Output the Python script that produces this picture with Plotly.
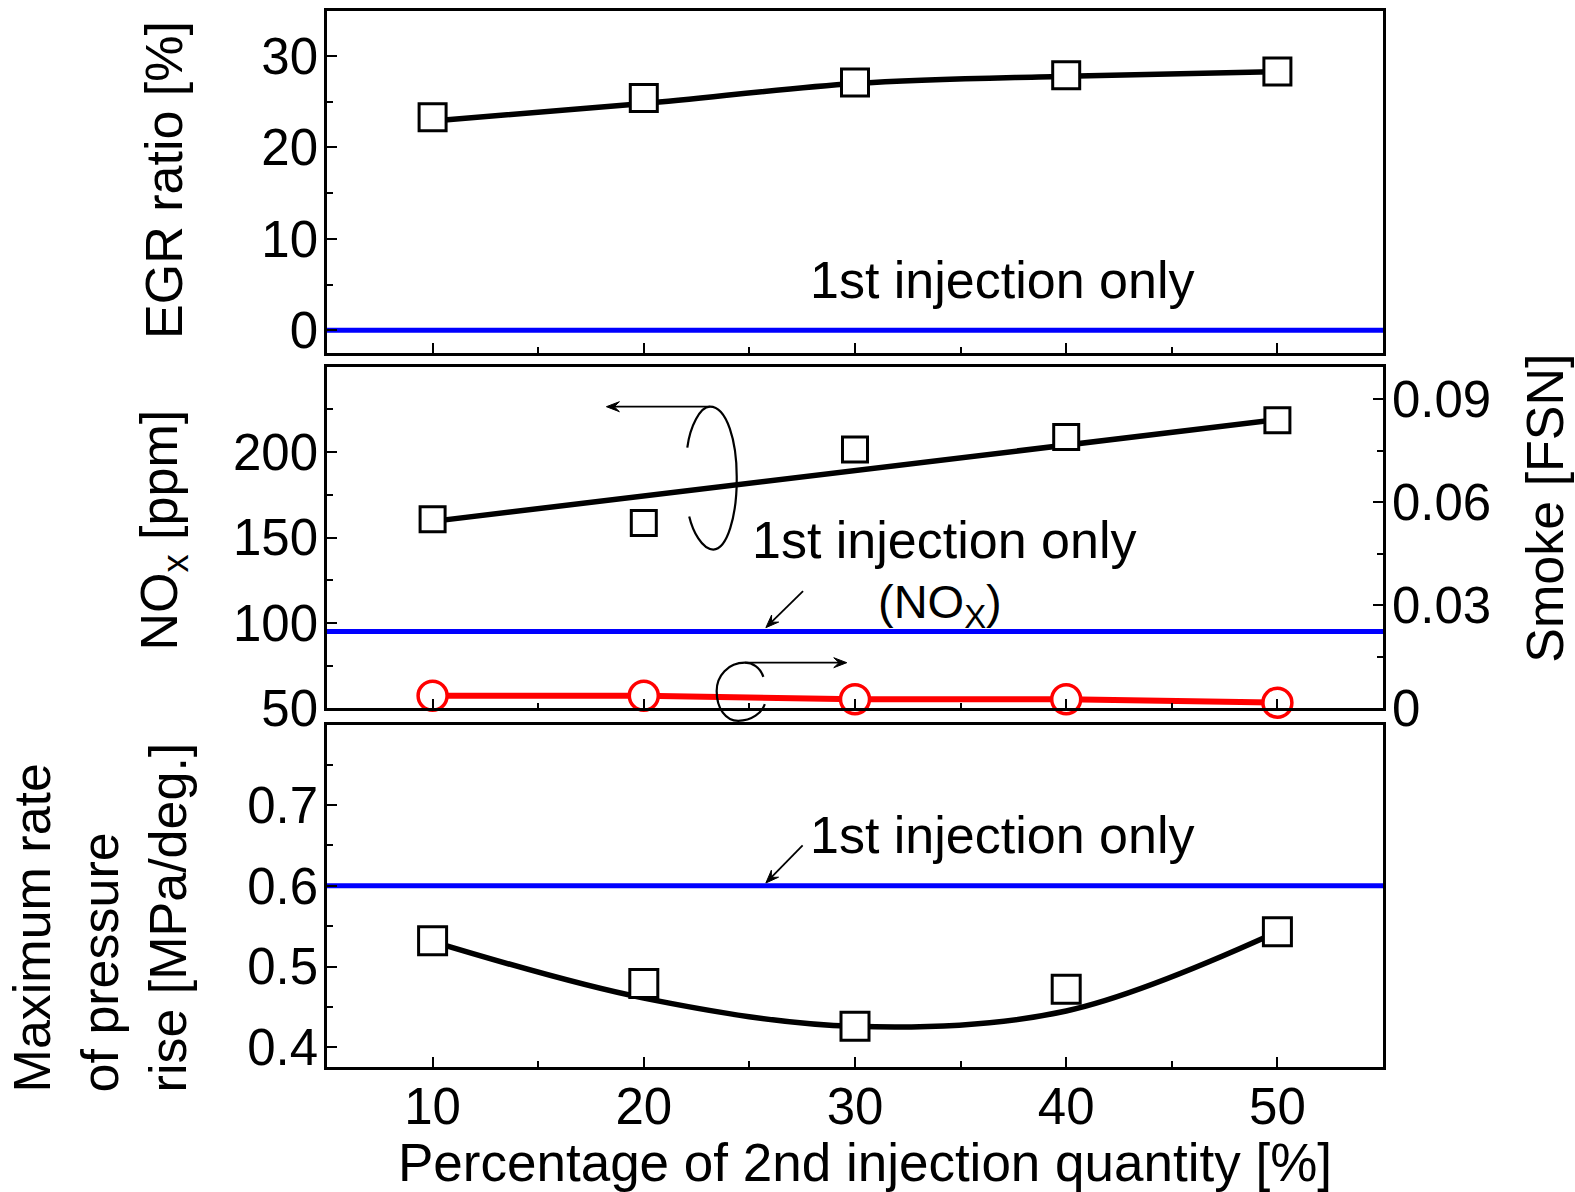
import math
import plotly.graph_objects as go

# ---- data -------------------------------------------------------------
x_pct = [10, 20, 30, 40, 50]          # percentage of 2nd injection quantity

egr_ratio = [23.3, 25.4, 27.1, 27.9, 28.3]       # EGR ratio [%]
egr_fit = [22.9, 24.8, 27.0, 27.8, 28.3]         # fitted trend
egr_single = 0.0                                 # 1st injection only

nox_ppm = [160.7, 158.5, 201.5, 208.9, 218.6]    # NOx [ppm]
nox_fit_x = [10, 50]
nox_fit = [159.5, 219.0]
nox_single = 95.0

smoke_fsn = [0.0037, 0.0037, 0.0027, 0.0027, 0.0017]   # Smoke [FSN]

prr = [0.532, 0.479, 0.426, 0.472, 0.543]        # max rate of pressure rise
prr_fit = [0.531, 0.461, 0.426, 0.445, 0.543]
prr_single = 0.6

# ---- figure / axis setup ---------------------------------------------
FONT = "Liberation Sans, Arial, sans-serif"
TICK_SIZE = 51
TITLE_SIZE = 52
FIG_W, FIG_H = 1575, 1192
MARGIN = dict(l=327, r=192, t=8, b=125)
PLOT_W = FIG_W - MARGIN["l"] - MARGIN["r"]
PLOT_H = FIG_H - MARGIN["t"] - MARGIN["b"]

X_RANGE = [5, 55]
EGR_RANGE = [-2.48, 34.93]
NOX_RANGE = [50, 249.9]
SMOKE_RANGE = [0, 0.0995]
PRR_RANGE = [0.3757, 0.7994]
EGR_DOM = [0.6762, 1.0]
NOX_DOM = [0.3395, 0.6630]
PRR_DOM = [0.0, 0.3241]

BLUE = "#0000ff"
RED = "#ff0000"

fig = go.Figure()

# EGR panel
fig.add_trace(go.Scatter(x=x_pct, y=egr_fit, mode="lines", line=dict(color="black", width=5.5, shape="spline"),
                         xaxis="x", yaxis="y"))
fig.add_trace(go.Scatter(x=x_pct, y=egr_ratio, mode="markers",
                         marker=dict(symbol="square", size=27, color="white", line=dict(color="black", width=3)),
                         xaxis="x", yaxis="y"))

# NOx / smoke panel
fig.add_trace(go.Scatter(x=nox_fit_x, y=nox_fit, mode="lines", line=dict(color="black", width=5.5),
                         xaxis="x2", yaxis="y2"))
fig.add_trace(go.Scatter(x=x_pct, y=nox_ppm, mode="markers",
                         marker=dict(symbol="square", size=25, color="white", line=dict(color="black", width=3)),
                         xaxis="x2", yaxis="y2"))
fig.add_trace(go.Scatter(x=x_pct, y=smoke_fsn, mode="lines+markers", cliponaxis=False,
                         line=dict(color=RED, width=6),
                         marker=dict(symbol="circle", size=29, color="white", line=dict(color=RED, width=3.5)),
                         xaxis="x2", yaxis="y4"))

# pressure rise panel
fig.add_trace(go.Scatter(x=x_pct, y=prr_fit, mode="lines", line=dict(color="black", width=5.5, shape="spline"),
                         xaxis="x3", yaxis="y3"))
fig.add_trace(go.Scatter(x=x_pct, y=prr, mode="markers",
                         marker=dict(symbol="square", size=28, color="white", line=dict(color="black", width=3)),
                         xaxis="x3", yaxis="y3"))

# reference lines for single injection
for yref, val in (("y", egr_single), ("y2", nox_single), ("y3", prr_single)):
    fig.add_shape(type="line", xref="x domain", x0=0, x1=1, yref=yref, y0=val, y1=val,
                  line=dict(color=BLUE, width=5), layer="below")


def xaxis(anchor, labels):
    return dict(anchor=anchor, domain=[0, 1], range=X_RANGE, tick0=10, dtick=10,
                showticklabels=labels, ticks="inside", ticklen=10, tickwidth=2, tickcolor="black",
                minor=dict(ticks="inside", ticklen=6, tickwidth=2, tickcolor="black", dtick=5),
                showline=True, linecolor="black", linewidth=2.5, mirror=True,
                showgrid=False, zeroline=False, ticklabelstandoff=-7,
                tickfont=dict(family=FONT, size=TICK_SIZE, color="black"))


def yaxis(domain, rng, dtick, tick0, minor, **kw):
    d = dict(domain=domain, range=rng, tick0=tick0, dtick=dtick,
             ticks="inside", ticklen=10, tickwidth=2, tickcolor="black",
             minor=dict(ticks="inside", ticklen=6, tickwidth=2, tickcolor="black", dtick=minor),
             showline=True, linecolor="black", linewidth=2.5, mirror=True,
             showgrid=False, zeroline=False, ticklabelstandoff=-4,
             tickfont=dict(family=FONT, size=TICK_SIZE, color="black"))
    d.update(kw)
    return d


fig.update_layout(
    width=FIG_W, height=FIG_H,
    margin=MARGIN,
    paper_bgcolor="white", plot_bgcolor="white",
    showlegend=False,
    font=dict(family=FONT, color="black"),
    xaxis=xaxis("y", False),
    xaxis2=xaxis("y2", False),
    xaxis3=xaxis("y3", True),
    yaxis=yaxis(EGR_DOM, EGR_RANGE, 10, 0, 5, anchor="x"),
    yaxis2=yaxis(NOX_DOM, NOX_RANGE, 50, 50, 25, anchor="x2"),
    yaxis3=yaxis(PRR_DOM, PRR_RANGE, 0.1, 0.4, 0.05, anchor="x3"),
    yaxis4=yaxis(NOX_DOM, SMOKE_RANGE, 0.03, 0, 0.015, anchor="x2", overlaying="y2", side="right",
                 mirror=False),
)


# ---- decorations (curved rings and arrows), drawn in paper space ------
def to_paper(x, y, rng=NOX_RANGE, dom=NOX_DOM):
    fx = (x - X_RANGE[0]) / (X_RANGE[1] - X_RANGE[0])
    fy = dom[0] + (y - rng[0]) / (rng[1] - rng[0]) * (dom[1] - dom[0])
    return fx, fy


def bezier_path(start, segments):
    sx, sy = to_paper(*start)
    parts = [f"M {sx:.5f},{sy:.5f}"]
    for seg in segments:
        pts = [to_paper(*p) for p in seg]
        parts.append("C " + " ".join(f"{a:.5f},{b:.5f}" for a, b in pts))
    return " ".join(parts)


ring_nox = bezier_path((22.06, 202.7), [
    [(22.19, 214.9), (22.66, 226.6), (23.13, 226.6)],
    [(23.94, 226.6), (24.41, 206.2), (24.40, 184.8)],
    [(24.41, 162.4), (23.94, 143.2), (23.29, 143.0)],
    [(22.75, 143.2), (22.32, 153.7), (22.15, 162.4)],
])
ring_smoke = bezier_path((25.66, 68.5), [
    [(25.51, 74.3), (25.13, 76.8), (24.79, 76.8)],
    [(23.99, 76.8), (23.45, 69.1), (23.45, 60.3)],
    [(23.45, 49.8), (23.89, 42.8), (24.47, 42.8)],
    [(25.12, 42.8), (25.59, 47.5), (25.73, 52.6)],
])
for p in (ring_nox, ring_smoke):
    fig.add_shape(type="path", path=p, xref="paper", yref="paper", line=dict(color="black", width=2.2))


def arrow(head, tail, rng, dom, head_len=13, head_half=5):
    hx, hy = to_paper(*head, rng=rng, dom=dom)
    tx, ty = to_paper(*tail, rng=rng, dom=dom)
    # direction in screen pixels
    dx, dy = (hx - tx) * PLOT_W, (hy - ty) * PLOT_H
    n = math.hypot(dx, dy)
    ux, uy = dx / n, dy / n
    bx, by = hx * PLOT_W - ux * head_len, hy * PLOT_H - uy * head_len
    p1 = ((bx - uy * head_half) / PLOT_W, (by + ux * head_half) / PLOT_H)
    p2 = ((bx + uy * head_half) / PLOT_W, (by - ux * head_half) / PLOT_H)
    shaft_end = ((hx * PLOT_W - ux * head_len * 0.6) / PLOT_W, (hy * PLOT_H - uy * head_len * 0.6) / PLOT_H)
    fig.add_shape(type="line", xref="paper", yref="paper", x0=tx, y0=ty, x1=shaft_end[0], y1=shaft_end[1],
                  line=dict(color="black", width=1.8))
    fig.add_shape(type="path", xref="paper", yref="paper",
                  path=f"M {hx:.5f},{hy:.5f} L {p1[0]:.5f},{p1[1]:.5f} "
                       f"L {shaft_end[0]:.5f},{shaft_end[1]:.5f} L {p2[0]:.5f},{p2[1]:.5f} Z",
                  fillcolor="black", line=dict(color="black", width=1))


arrow((18.23, 226.6), (23.13, 226.6), NOX_RANGE, NOX_DOM)
arrow((29.61, 76.8), (24.79, 76.8), NOX_RANGE, NOX_DOM)
arrow((25.78, 97.3), (27.54, 118.7), NOX_RANGE, NOX_DOM)
arrow((25.78, 0.6035), (27.52, 0.65), PRR_RANGE, PRR_DOM)

# ---- text labels ------------------------------------------------------
lab_font = dict(family=FONT, size=52, color="black")
fig.add_annotation(x=36.94, y=5.49, xref="x", yref="y", text="1st injection only", showarrow=False, font=lab_font)
fig.add_annotation(x=34.2, y=148.4, xref="x2", yref="y2", text="1st injection only", showarrow=False, font=lab_font)
fig.add_annotation(x=34.03, y=110.5, xref="x2", yref="y2", text="(NO<sub>X</sub>)", showarrow=False,
                   font=dict(family=FONT, size=47, color="black"))
fig.add_annotation(x=36.94, y=0.6626, xref="x3", yref="y3", text="1st injection only", showarrow=False, font=lab_font)

ttl_font = dict(family=FONT, size=TITLE_SIZE, color="black")
fig.add_annotation(x=-0.1544, y=0.840, xref="paper", yref="paper", text="EGR ratio [%]", textangle=-90,
                   showarrow=False, font=ttl_font, xanchor="center", yanchor="middle")
fig.add_annotation(x=-0.1553, y=0.508, xref="paper", yref="paper", text="NO<sub>x</sub> [ppm]", textangle=-90,
                   showarrow=False, font=ttl_font, xanchor="center", yanchor="middle")
fig.add_annotation(x=-0.2150, y=0.1416, xref="paper", yref="paper",
                   text="Maximum rate<br>of pressure<br>rise [MPa/deg.]", textangle=-90, align="left",
                   showarrow=False, font=ttl_font, xanchor="center", yanchor="middle")
fig.add_annotation(x=1.1534, y=0.5297, xref="paper", yref="paper", text="Smoke [FSN]", textangle=-90,
                   showarrow=False, font=ttl_font, xanchor="center", yanchor="middle")
fig.add_annotation(x=0.5095, y=-0.0905, xref="paper", yref="paper",
                   text="Percentage of 2nd injection quantity [%]",
                   showarrow=False, font=dict(family=FONT, size=53, color="black"),
                   xanchor="center", yanchor="middle")

fig.write_html("out.html")
